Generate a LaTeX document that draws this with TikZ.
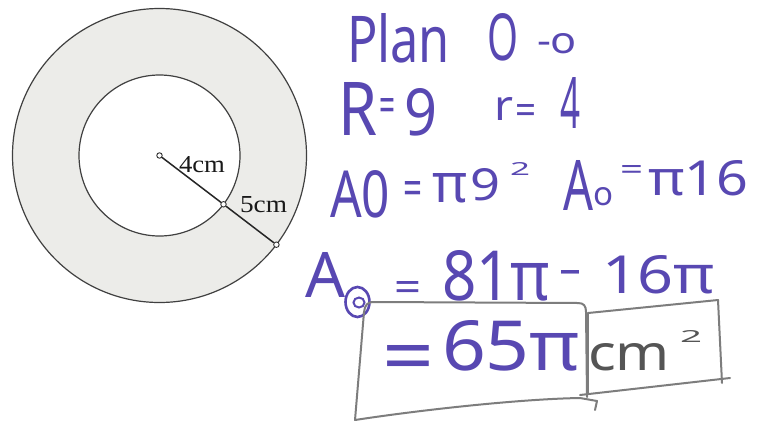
\documentclass[tikz,border=0pt]{standalone}
\usepackage{fontspec}
\setmainfont{Liberation Serif}
\newfontfamily\hand{Noto Sans}
\usepackage{graphicx}
\definecolor{ink}{RGB}{88,72,178}
\definecolor{pencil}{RGB}{85,85,85}
\definecolor{boxgrey}{RGB}{125,125,125}
\definecolor{ringfill}{RGB}{236,236,233}
\newcommand{\fitbox}[3]{\resizebox{#1pt}{#2pt}{#3}}
\tikzset{
  hw/.style={text=ink, font=\hand, inner sep=0pt, outer sep=0pt, anchor=base west},
  pw/.style={hw, text=pencil},
  lab/.style={inner sep=0pt, outer sep=0pt, anchor=base west, text=black!90},
  dotnode/.style={circle, draw=black!80, fill=white, line width=0.9pt, minimum size=5.5pt, inner sep=0pt},
  frame/.style={draw=boxgrey, line width=2pt, line cap=round, line join=round},
  circ/.style={draw=black!75, line width=1.2pt},
  radline/.style={draw=black!85, line width=1.5pt},
}
\begin{document}
\begin{tikzpicture}[x=1pt,y=-1pt]
\useasboundingbox (0,0) rectangle (763,426);
\fill[white] (0,0) rectangle (763,426);
% annulus
\coordinate (C) at (159.5,155.5);
\draw[circ, fill=ringfill] (C) circle[radius=147pt];
\draw[circ, fill=white] (C) circle[radius=80.5pt];
\node[dotnode] (c0) at (C) {};
\node[dotnode] (p1) at (223.5,204.3) {};
\node[dotnode] (p2) at (276.4,244.7) {};
\draw[radline] (c0) -- (p1);
\draw[radline] (p1) -- (p2);
\node[lab] (l4) at (179,172) {\fitbox{46}{16}{4cm}};
\node[lab] (l5) at (240,212) {\fitbox{47}{16}{5cm}};
% line 1
\node[hw] (plan) at (347,62) {\fitbox{103}{49}{Plan}};
\node[hw] (bigO) at (487,60) {\fitbox{31}{47}{O}};
\node[hw] (smallo) at (537,53) {\fitbox{40}{20}{-o}};
% line 2
\node[hw] (R) at (338,135) {\fitbox{39}{53}{R}};
\node[hw] (eqR) at (379,122) {\fitbox{16}{24}{=}};
\node[hw] (nine0) at (404,135) {\fitbox{33}{47}{9}};
\node[hw] (r) at (494,120) {\fitbox{19}{23}{r}};
\node[hw] (eqr) at (515,124) {\fitbox{21}{20}{=}};
\node[hw] (four) at (560,128) {\fitbox{20}{51}{4}};
% line 3
\node[hw] (A0) at (330,217) {\fitbox{60}{47}{A0}};
\node[hw] (eq1) at (403,205) {\fitbox{19}{24}{=}};
\node[hw] (pi1) at (432,202) {\fitbox{35}{29}{π}};
\node[hw] (nine) at (470,200) {\fitbox{30}{32}{9}};
\node[hw] (sq1) at (510,175) {\fitbox{20}{13}{2}};
\node[hw] (A1) at (563,210) {\fitbox{30}{50}{A}};
\node[hw] (sub1) at (593,205) {\fitbox{20}{18}{o}};
\node[hw] (eq2) at (620,179) {\fitbox{23}{14}{=}};
\node[hw] (pi16) at (648,195) {\fitbox{100}{35}{π16}};
% line 4
\node[hw] (A2) at (305,297) {\fitbox{40}{45}{A}};
\draw[ink, line width=2.6pt] (357.5,302) ellipse (12pt and 15pt);
\draw[ink, line width=2pt] (359,302.5) ellipse (5.5pt and 5pt);
\node[hw] (eq3) at (394,301) {\fitbox{27}{20}{=}};
\node[hw] (t81) at (442,300) {\fitbox{108}{50}{81π}};
\node[hw] (minus) at (558,284) {\fitbox{24}{14}{-}};
\node[hw] (t16) at (602,293) {\fitbox{113}{38}{16π}};
% line 5
\node[hw] (eq4) at (382,383) {\fitbox{52}{38}{=}};
\node[hw] (t65) at (442,370) {\fitbox{138}{50}{65π}};
\node[pw] (cm) at (588,370) {\fitbox{82}{27}{cm}};
\node[pw] (sq2) at (680,342) {\fitbox{22}{12}{2}};
% hand-drawn frames
\draw[frame] (595,410) -- (597,401) -- (580,398)
  .. controls (520,399) and (420,410) .. (355,420)
  -- (364,312) .. controls (365,305) and (367,302) .. (374,302)
  -- (578,303) .. controls (584,303) and (586,306) .. (586,312) -- (587,397);
\draw[frame] (588,313) -- (718,300) -- (722,383);
\draw[frame] (588,313) -- (588,393);
\draw[frame] (580,395) -- (730,378);
\end{tikzpicture}
\end{document}
